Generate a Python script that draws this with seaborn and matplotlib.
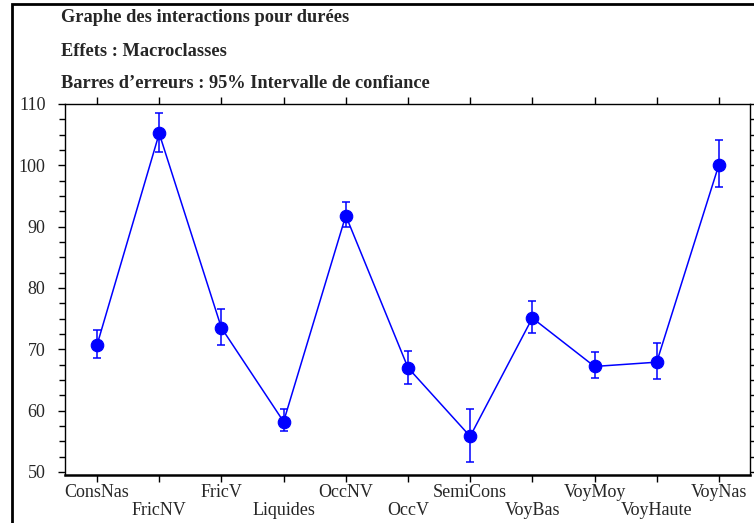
import matplotlib
matplotlib.use("Agg")
import matplotlib.pyplot as plt
from matplotlib.patches import Rectangle
from matplotlib.ticker import MultipleLocator
import numpy as np
import pandas as pd
import seaborn as sns

# Mean durations per macro-class with 95% confidence bounds
categories = ["ConsNas", "FricNV", "FricV", "Liquides", "OccNV", "OccV",
              "SemiCons", "VoyBas", "VoyMoy", "VoyHaute", "VoyNas"]
means = [70.7, 105.2, 73.5, 58.2, 91.8, 67.0, 55.8, 75.1, 67.2, 67.9, 100.1]
ci_low = [68.5, 102.2, 70.7, 56.6, 89.9, 64.4, 51.6, 72.7, 65.3, 65.1, 96.4]
ci_high = [73.1, 108.5, 76.5, 60.2, 94.0, 69.8, 60.2, 77.8, 69.6, 71.0, 104.2]
title_lines = ["Graphe des interactions pour durées",
               "Effets : Macroclasses",
               "Barres d\u2019erreurs : 95% Intervalle de confiance"]

df = pd.DataFrame({"classe": categories, "duree": means})

sns.set_style("white")
plt.rcParams["font.family"] = ["Liberation Serif", "DejaVu Serif"]

fig = plt.figure(figsize=(7.54, 5.23), dpi=100)
ax = fig.add_axes([65 / 754, 48 / 523, 685 / 754, 371 / 523])

blue = "#0000ff"
sns.pointplot(data=df, x="classe", y="duree", color=blue, markers="o",
              errorbar=None, markersize=9, linewidth=1.1, ax=ax)

xpos = np.arange(len(categories))
lower = np.array(means) - np.array(ci_low)
upper = np.array(ci_high) - np.array(means)
ax.errorbar(xpos, means, yerr=[lower, upper], fmt="none", ecolor=blue,
            elinewidth=1.1, capsize=3, capthick=1.1, zorder=1)

ax.set_xlim(-0.515, 10.5)
ax.set_ylim(49.5, 110)
ax.set_xlabel("")
ax.set_ylabel("")

# alternate category labels on two rows
labels = [c if i % 2 == 0 else "\n" + c for i, c in enumerate(categories)]
ax.set_xticks(xpos)
ax.set_xticklabels(labels, fontsize=13, linespacing=1.1)
ax.yaxis.set_major_locator(MultipleLocator(10))
ax.yaxis.set_minor_locator(MultipleLocator(2.5))
ax.tick_params(axis="y", which="both", direction="out", left=True, right=True,
               labelsize=13, color="black", width=1)
ax.tick_params(axis="y", which="major", length=5, pad=9)
ax.tick_params(axis="y", which="minor", length=4)
ax.tick_params(axis="x", which="both", direction="out", bottom=True, top=True,
               length=5, width=1, color="black", pad=1.5)

for side in ["left", "right", "top", "bottom"]:
    ax.spines[side].set_visible(True)
    ax.spines[side].set_color("black")
    ax.spines[side].set_linewidth(1.0)
ax.spines["bottom"].set_linewidth(1.8)

# header block
ys = [18, 51, 84]
for txt, y in zip(title_lines, ys):
    fig.text(61 / 754, 1 - y / 523, txt, fontsize=13.2, fontweight="bold",
             ha="left", va="center")

# outer frame of the graph page
fig.patches.append(Rectangle((12 / 754, -0.05), 1.2, 1 - 4 / 523 + 0.05,
                             transform=fig.transFigure, fill=False,
                             edgecolor="black", linewidth=2))

fig.savefig("out.png", dpi=100)
